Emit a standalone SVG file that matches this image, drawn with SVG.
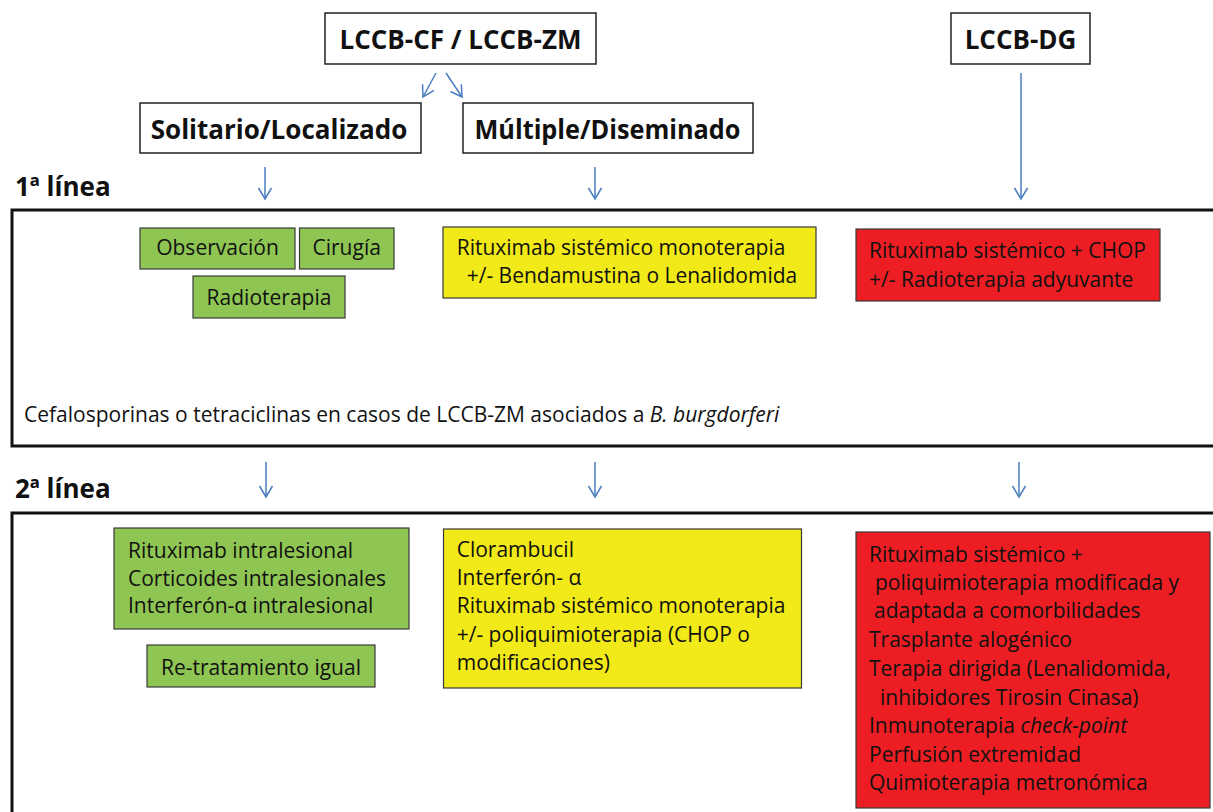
<svg xmlns="http://www.w3.org/2000/svg" width="1213" height="812" viewBox="0 0 1213 812">
<style>
  text { font-family: "Open Sans", "Liberation Sans", sans-serif; fill: #111; }
  .hd { font-size: 26px; font-weight: bold; }
  .ln { font-size: 26px; font-weight: bold; }
  .t { font-size: 21px; }
  .hbox { fill: #fff; stroke: #222; stroke-width: 1.5; }
  .big { fill: none; stroke: #111; stroke-width: 3; }
  .g { fill: #8FC653; stroke: #3a3a3a; stroke-width: 1.2; }
  .y { fill: #F2EA18; stroke: #3a3a3a; stroke-width: 1.2; }
  .r { fill: #EC1E24; stroke: #3a3a3a; stroke-width: 1.2; }
  .c { text-anchor: middle; }
  .conn line { stroke: #4A7EC0; stroke-width: 1.5; marker-end: url(#arr); }
</style>
<defs>
  <marker id="arr" viewBox="0 0 14 16" refX="12" refY="8" markerWidth="14" markerHeight="16" markerUnits="userSpaceOnUse" orient="auto">
    <path d="M1,1.5 L12,8 L1,14.5" fill="none" stroke="#4A7EC0" stroke-width="1.5"/>
  </marker>
</defs>
<rect width="1213" height="812" fill="#fff"/>

<g id="lccb-cf-zm">
  <rect class="hbox" x="325" y="13" width="271" height="51"/>
  <text class="hd c" x="460.5" y="49">LCCB-CF / LCCB-ZM</text>
</g>
<g id="lccb-dg">
  <rect class="hbox" x="951" y="13" width="139" height="51"/>
  <text class="hd c" x="1020.5" y="49">LCCB-DG</text>
</g>
<g id="solitario">
  <rect class="hbox" x="140" y="103" width="281" height="50"/>
  <text class="hd c" x="279" y="139">Solitario/Localizado</text>
</g>
<g id="multiple">
  <rect class="hbox" x="463" y="103" width="290" height="50"/>
  <text class="hd c" x="607.5" y="139" textLength="266" lengthAdjust="spacingAndGlyphs">Múltiple/Diseminado</text>
</g>

<g id="linea1-label"><text class="ln" x="15" y="196">1ª línea</text></g>
<g id="linea1-box">
  <path class="big" d="M1225,210 H12 V446 H1225"/>
  <text class="t" x="24" y="422">Cefalosporinas o tetraciclinas en casos de LCCB-ZM asociados a <tspan font-style="italic">B. burgdorferi</tspan></text>
</g>
<g id="observacion">
  <rect class="g" x="140" y="228" width="155" height="41"/>
  <text class="t c" x="217.5" y="255">Observación</text>
</g>
<g id="cirugia">
  <rect class="g" x="299.5" y="228" width="94.5" height="41"/>
  <text class="t c" x="346.7" y="255">Cirugía</text>
</g>
<g id="radioterapia">
  <rect class="g" x="193" y="276" width="152" height="42"/>
  <text class="t c" x="269" y="305">Radioterapia</text>
</g>
<g id="rituximab-mono">
  <rect class="y" x="443" y="227" width="373" height="71"/>
  <text class="t" x="456.7" y="255">Rituximab sistémico monoterapia</text>
  <text class="t" x="466.7" y="283">+/- Bendamustina o Lenalidomida</text>
</g>
<g id="rituximab-chop">
  <rect class="r" x="856" y="229" width="304" height="72"/>
  <text class="t" x="869" y="258">Rituximab sistémico + CHOP</text>
  <text class="t" x="869" y="286.5">+/- Radioterapia adyuvante</text>
</g>

<g id="linea2-label"><text class="ln" x="15" y="498">2ª línea</text></g>
<g id="linea2-box">
  <path class="big" d="M1225,513 H12 V830"/>
</g>
<g id="intralesional">
  <rect class="g" x="114" y="528" width="295" height="101"/>
  <text class="t" x="128" y="558">Rituximab intralesional</text>
  <text class="t" x="128" y="585.7">Corticoides intralesionales</text>
  <text class="t" x="128" y="612.7">Interferón-α intralesional</text>
</g>
<g id="retratamiento">
  <rect class="g" x="147" y="645" width="228" height="42"/>
  <text class="t c" x="261" y="675">Re-tratamiento igual</text>
</g>
<g id="clorambucil">
  <rect class="y" x="443.5" y="529" width="358" height="159"/>
  <text class="t" x="456.7" y="556.7">Clorambucil</text>
  <text class="t" x="456.7" y="585">Interferón- α</text>
  <text class="t" x="456.7" y="613.3">Rituximab sistémico monoterapia</text>
  <text class="t" x="456.7" y="641.7">+/- poliquimioterapia (CHOP o</text>
  <text class="t" x="456.7" y="670">modificaciones)</text>
</g>
<g id="dg-segunda">
  <rect class="r" x="856" y="532" width="354" height="276"/>
  <text class="t" x="869" y="561.7">Rituximab sistémico +</text>
  <text class="t" x="875" y="590">poliquimioterapia modificada y</text>
  <text class="t" x="874" y="618.3">adaptada a comorbilidades</text>
  <text class="t" x="869" y="647.3">Trasplante alogénico</text>
  <text class="t" x="869" y="676">Terapia dirigida (Lenalidomida,</text>
  <text class="t" x="880" y="705">inhibidores Tirosin Cinasa)</text>
  <text class="t" x="869" y="733.3">Inmunoterapia <tspan font-style="italic">check-point</tspan></text>
  <text class="t" x="869" y="761.7">Perfusión extremidad</text>
  <text class="t" x="869" y="790">Quimioterapia metronómica</text>
</g>

<g id="connectors" class="conn">
  <line x1="436" y1="73" x2="423" y2="97"/>
  <line x1="446" y1="73" x2="462" y2="97"/>
  <line x1="265" y1="167" x2="265" y2="199"/>
  <line x1="595" y1="167" x2="595" y2="199"/>
  <line x1="1021" y1="73" x2="1021" y2="199"/>
  <line x1="266" y1="462" x2="266" y2="497"/>
  <line x1="595" y1="462" x2="595" y2="497"/>
  <line x1="1019" y1="462" x2="1019" y2="497"/>
</g>
</svg>
